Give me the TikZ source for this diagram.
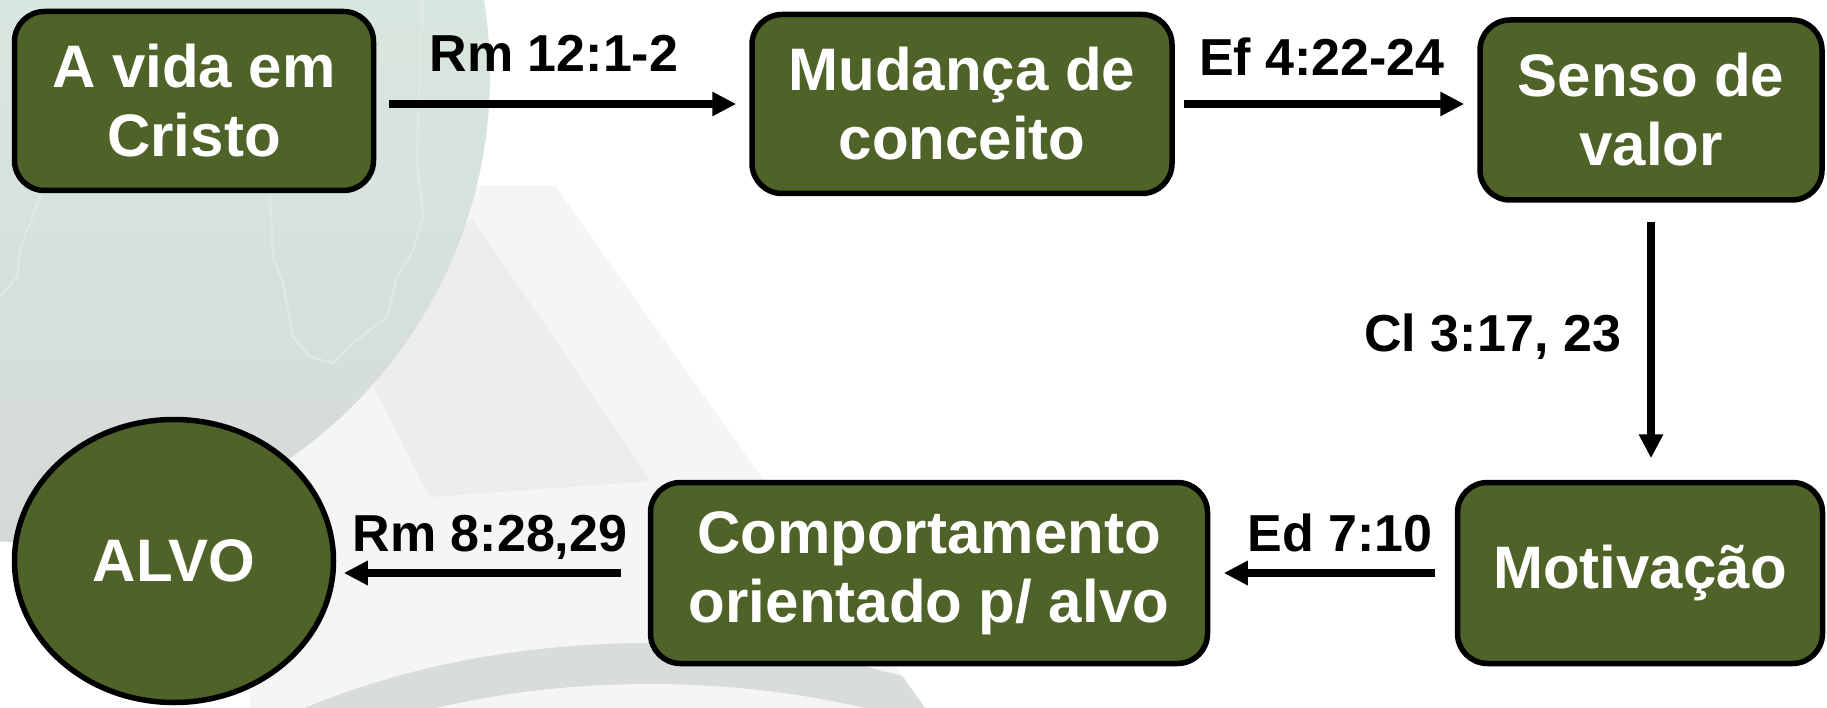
\documentclass[tikz,border=0pt]{standalone}
\usepackage{fontspec}
\setmainfont{Liberation Sans}
\usetikzlibrary{arrows.meta,shapes.geometric}
\definecolor{boxgreen}{HTML}{4F6228}
\definecolor{globetop}{HTML}{D8E7DF}
\definecolor{globebot}{HTML}{D5DAD7}
\definecolor{globeline}{HTML}{DFE8E3}
\definecolor{alight}{HTML}{F5F5F5}
\definecolor{adark}{HTML}{EDEDED}
\definecolor{arcgray}{HTML}{D8DDDA}
\begin{document}
\begin{tikzpicture}[x=1pt,y=-1pt,
  stepbox/.style={draw=black, line width=5.5pt, fill=boxgreen, rounded corners=30pt,
    text=white, font=\bfseries\fontsize{60}{69}\selectfont, align=center, inner sep=0pt},
  goal/.style={ellipse, draw=black, line width=5.5pt, fill=boxgreen, text=white,
    font=\bfseries\fontsize{60}{69}\selectfont, inner sep=0pt},
  conn/.style={line width=7.5pt, -{Triangle[length=24pt,width=23pt]}},
  reflabel/.style={font=\bfseries\fontsize{52}{60}\selectfont, anchor=base, inner sep=0pt},
  contour/.style={draw=globeline, line width=2.5pt, line join=round, line cap=round}
]
% background
\useasboundingbox (0,0) rectangle (1827,708);
\fill[white] (0,0) rectangle (1827,708);
\fill[alight] (468,186) -- (555,186) -- (925,708) -- (250,708) -- (250,400) -- cycle;
\fill[adark] (472,218) -- (651,481) -- (430,497) -- (374,388) -- (400,300) -- cycle;
\begin{scope}
  \clip (0,0) -- (430,0) -- (555,186) -- (925,708) -- (0,708) -- cycle;
  \fill[arcgray, even odd rule] (650,1000) ellipse [x radius=600pt, y radius=357pt]
                                (650,1000) ellipse [x radius=560pt, y radius=316pt];
\end{scope}
\begin{scope}
  \clip (23,75) circle [radius=467pt];
  \shade[top color=globetop, bottom color=globebot] (-10,0) rectangle (500,545);
  \draw[contour] (423,0) -- (420,60) -- (417,160) -- (423,217) -- (413,250) -- (397,277)
    -- (387,317) -- (353,343) -- (333,363) -- (310,357) -- (293,337) -- (288,310)
    -- (283,283) -- (273,257) -- (270,197) -- (272,150);
  \draw[contour] (45,150) -- (40,197) -- (20,250) -- (17,277) -- (0,297);
\end{scope}

% nodes
\node[stepbox, minimum width=359pt, minimum height=179pt] (b1) at (194,101) {A vida em\\Cristo};
\node[stepbox, minimum width=420pt, minimum height=179pt] (b2) at (962,104) {Mudança de\\conceito};
\node[stepbox, minimum width=342pt, minimum height=180pt] (b3) at (1651,110) {Senso de\\valor};
\node[stepbox, minimum width=365pt, minimum height=181pt] (b4) at (1640,573) {Motivação};
\node[stepbox, minimum width=557pt, minimum height=181pt] (b5) at (929,573) {Comportamento\\orientado p/ alvo};
\node[goal, minimum width=319pt, minimum height=283pt] (g) at (174,561) {ALVO};

% connectors
\draw[conn, shorten <=12.5pt, shorten >=13pt] (b1.east |- b2.west) -- (b2.west);
\draw[conn, shorten <=9pt, shorten >=13pt] (b2.east) -- (b3.west |- b2.east);
\draw[conn, shorten <=19pt, shorten >=21.5pt] (b3.south) -- (b3.south |- b4.north);
\draw[conn, shorten <=19.5pt, shorten >=13.5pt] (b4.west) -- (b5.east |- b4.west);
\draw[conn, shorten <=26.5pt, shorten >=7.5pt] (b5.west) -- (g.east |- b5.west);

% labels
\node[reflabel] (l1) at (554,72) {Rm 12:1-2};
\node[reflabel] (l2) at (1322,76) {Ef 4:22-24};
\node[reflabel] (l3) at (1493,352) {Cl 3:17, 23};
\node[reflabel] (l4) at (1340,551) {Ed 7:10};
\node[reflabel] (l5) at (490,551) {Rm 8:28,29};
\end{tikzpicture}
\end{document}
